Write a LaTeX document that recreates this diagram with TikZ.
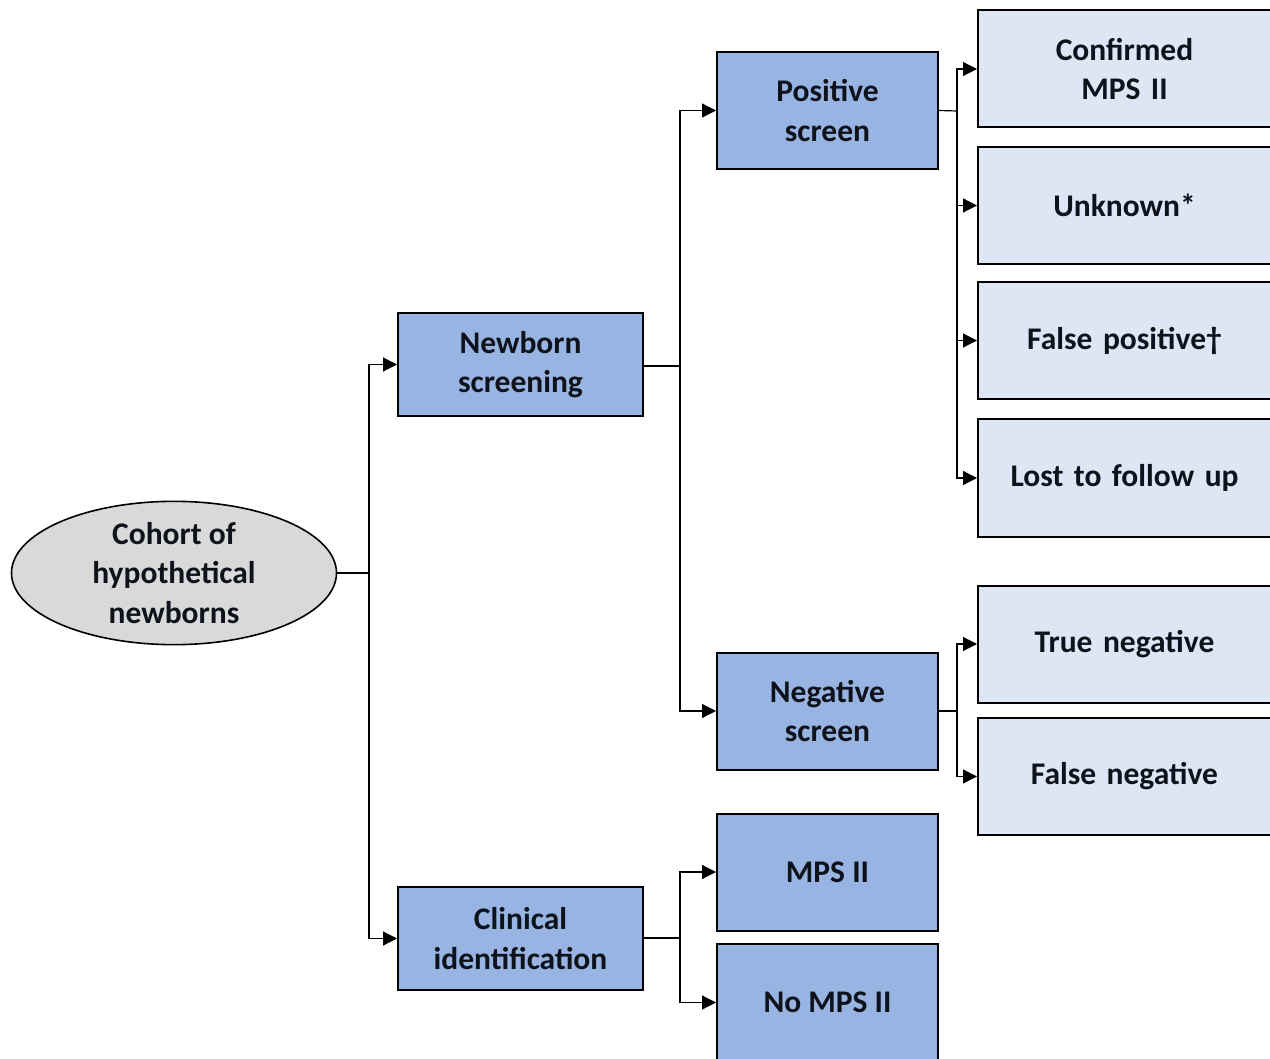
\documentclass[tikz,border=0pt]{standalone}
\usepackage{fontspec}
\setmainfont{Carlito}
\usetikzlibrary{shapes.geometric,arrows.meta}
\definecolor{darkbox}{HTML}{98B4E2}
\definecolor{lightbox}{HTML}{DCE6F4}
\definecolor{ellfill}{HTML}{D9D9D9}
\definecolor{txt}{HTML}{0E121A}
\begin{document}
\begin{tikzpicture}[x=1pt,y=-1pt,
  lab/.style={font=\bfseries\fontsize{31.5}{39.5}\selectfont, text=txt, align=center, inner sep=0pt},
  darkb/.style={lab, draw=black, line width=2pt, fill=darkbox, minimum width=221pt, minimum height=117pt},
  midb/.style={lab, draw=black, line width=2pt, fill=darkbox, minimum width=245pt, minimum height=103pt},
  lightb/.style={lab, draw=black, line width=2pt, fill=lightbox, minimum width=330pt, minimum height=117pt, text width=293pt},
  conn/.style={line width=1.2pt, draw=black},
  arr/.style={conn, -{Triangle[length=14pt,width=14pt]}}]
\useasboundingbox (0,0) rectangle (1270,1059);
% root
\node[ellipse, lab, draw=black, line width=1.6pt, fill=ellfill, minimum width=325pt, minimum height=133pt] (root) at (174,573) {Cohort of\\hypothetical\\newborns};
% level 2
\node[midb] (nbs) at (520.5,364.5) {Newborn\\screening};
\node[midb] (cli) at (520.5,938.5) {Clinical\\identification};
% level 3
\node[darkb] (pos) at (827.5,110.5) {Positive\\screen};
\node[darkb] (neg) at (827.5,711) {Negative\\screen};
\node[darkb] (mps) at (827.5,872) {MPS II};
\node[darkb] (nomps) at (827.5,1002.5) {No MPS II};
% level 4
\node[lightb, anchor=west] (conf) at (977,69) {\hspace*{-37pt}Confirmed\\\hspace*{-37pt}MPS II};
\node[lightb, anchor=west] (unk) at (977,205.5) {\hspace*{-37pt}Unknown*};
\node[lightb, anchor=west] (fp) at (977,340.5) {\hspace*{-37pt}False positive†};
\node[lightb, anchor=west] (lost) at (977,478) {\hspace*{-37pt}Lost to follow up};
\node[lightb, anchor=west] (tn) at (977,644) {\hspace*{-37pt}True negative};
\node[lightb, anchor=west] (fn) at (977,776.5) {\hspace*{-37pt}False negative};
% junctions
\coordinate (j1) at (369,573);
\coordinate (j2) at (680,366);
\coordinate (j3) at (680,938);
\coordinate (j4) at (957,111);
\coordinate (j5) at (957,711);
% connectors
\draw[conn] (root.east) -- (j1);
\draw[arr] (j1) |- (nbs.west);
\draw[arr] (j1) |- (cli.west);
\draw[conn] (nbs.east |- j2) -- (j2);
\draw[arr] (j2) |- (pos.west);
\draw[arr] (j2) |- (neg.west);
\draw[conn] (cli.east |- j3) -- (j3);
\draw[arr] (j3) |- (mps.west);
\draw[arr] (j3) |- (nomps.west);
\draw[conn] (pos.east) -- (j4);
\draw[arr] (j4) |- (conf.west);
\draw[arr] (j4) |- (unk.west);
\draw[arr] (j4) |- (fp.west);
\draw[arr] (j4) |- (lost.west);
\draw[conn] (neg.east) -- (j5);
\draw[arr] (j5) |- (tn.west);
\draw[arr] (j5) |- (fn.west);
\end{tikzpicture}
\end{document}
